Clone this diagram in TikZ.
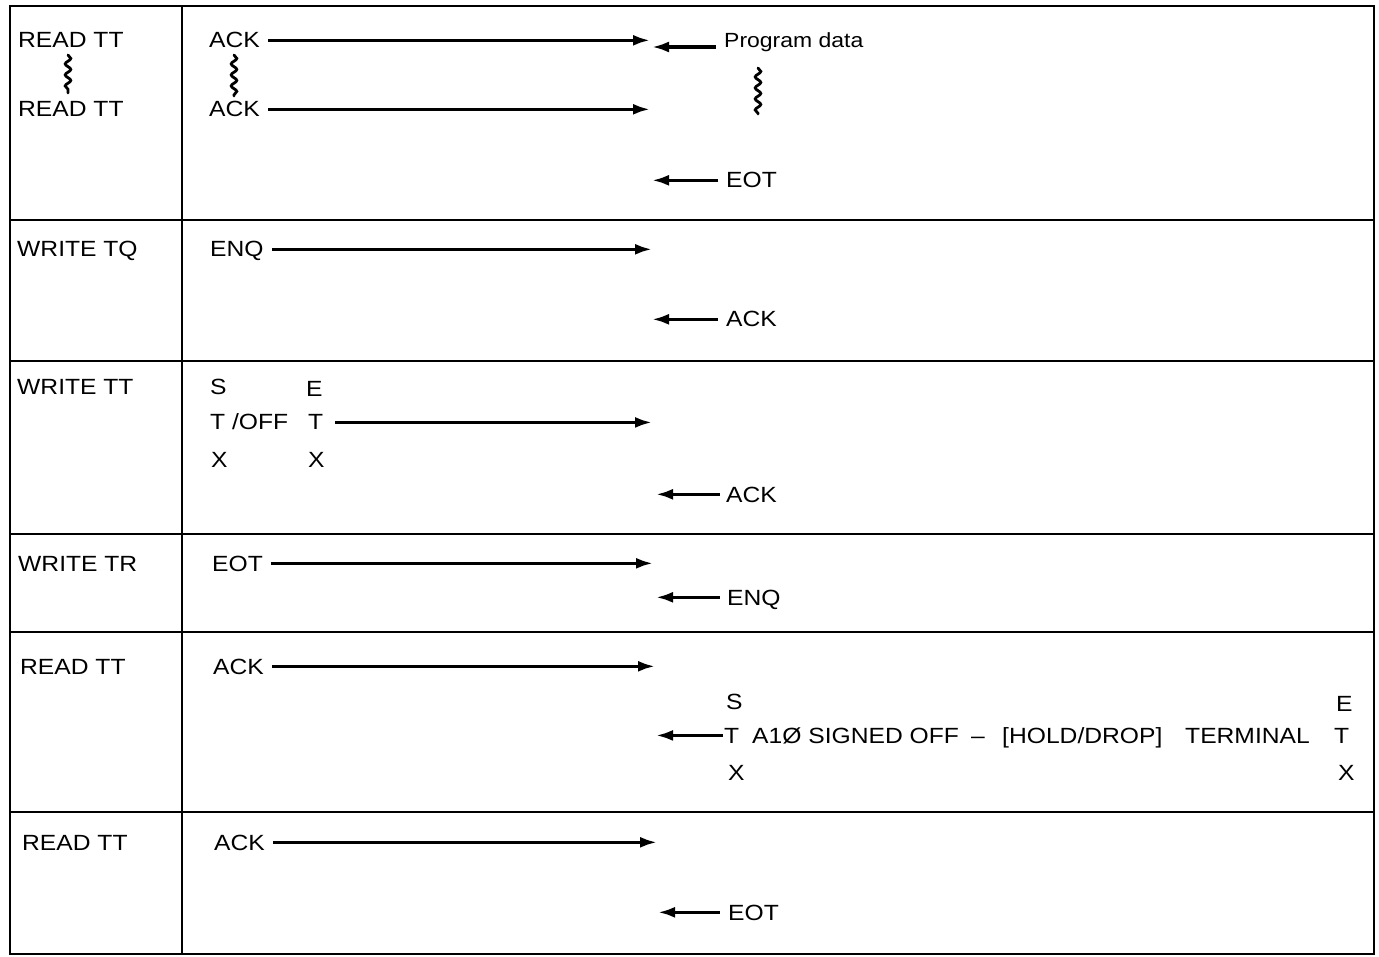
\documentclass[tikz,border=0pt]{standalone}
\usepackage{fontspec}
\setmainfont{Liberation Sans}[FakeStretch=1.12]
\usetikzlibrary{arrows.meta,decorations.pathmorphing,calc}
\begin{document}
\begin{tikzpicture}[x=1pt,y=-1pt,
 txt/.style={anchor=base west, inner sep=0pt, text depth=0pt, font=\fontsize{22}{26}\selectfont},
 small/.style={txt, font=\fontsize{20.5}{24}\selectfont},
 frame/.style={line width=2.6pt},
 arr/.style={line width=3.2pt, -{Latex[length=17pt,width=11pt]}},
 squig/.style={line width=2.8pt, line cap=round, decorate, decoration={snake, segment length=11pt, amplitude=2.8pt}}]
\useasboundingbox (0,0) rectangle (1379,957);
% frame
\draw[frame] (10,6) rectangle (1374,954);
\draw[frame] (182,6) -- (182,954);
\foreach \y in {220,361,534,632,812} \draw[frame] (10,\y) -- (1374,\y);

% ---------- row 1
\node[txt] (r1a) at (18,48) {READ TT};
\node[txt] (r1b) at (18,117) {READ TT};
\draw[squig] (68,55) -- (68,93);
\node[txt] (ack1a) at (209,48) {ACK};
\node[txt] (ack1b) at (209,117) {ACK};
\draw[squig] (234,55) -- (234,96);
\coordinate (t1a) at (650,0);
\draw[arr] ([xshift=8pt]ack1a.east) -- (ack1a.east -| t1a);
\draw[arr] ([xshift=8pt]ack1b.east) -- (ack1b.east -| t1a);
\node[small] (pd) at (724,48) {Program data};
\coordinate (l1) at (652,47);
\draw[arr] ($(pd.west |- l1)+(-8,0)$) -- (l1);
\draw[squig] (758,68) -- (758,114);
\node[txt] (eot1) at (726,188) {EOT};
\coordinate (l1b) at (652,0);
\draw[arr] ([xshift=-8pt]eot1.west) -- (eot1.west -| l1b);

% ---------- row 2
\node[txt] (r2) at (17,257) {WRITE TQ};
\node[txt] (enq2) at (210,257) {ENQ};
\coordinate (t2) at (652,0);
\draw[arr] ([xshift=8pt]enq2.east) -- (enq2.east -| t2);
\node[txt] (ack2) at (726,327) {ACK};
\coordinate (l2) at (652,0);
\draw[arr] ([xshift=-8pt]ack2.west) -- (ack2.west -| l2);

% ---------- row 3
\node[txt] (r3) at (17,395) {WRITE TT};
\node[txt] (s3) at (210,395) {S};
\node[txt] (e3) at (306,397) {E};
\node[txt] (t3a) at (210,430) {T /OFF};
\node[txt] (t3b) at (308,430) {T};
\node[txt] (x3a) at (211,467) {X};
\node[txt] (x3b) at (308,467) {X};
\coordinate (t3) at (652,0);
\draw[arr] ([xshift=12pt]t3b.east) -- (t3b.east -| t3);
\node[txt] (ack3) at (726,502) {ACK};
\coordinate (l3) at (656,0);
\draw[arr] ([xshift=-6pt]ack3.west) -- (ack3.west -| l3);

% ---------- row 4
\node[txt] (r4) at (18,571) {WRITE TR};
\node[txt] (eot4) at (212,571) {EOT};
\coordinate (t4) at (653,0);
\draw[arr] ([xshift=8pt]eot4.east) -- (eot4.east -| t4);
\node[txt] (enq4) at (727,605) {ENQ};
\coordinate (l4) at (656,0);
\draw[arr] ([xshift=-7pt]enq4.west) -- (enq4.west -| l4);

% ---------- row 5
\node[txt] (r5) at (20,674) {READ TT};
\node[txt] (ack5) at (213,674) {ACK};
\coordinate (t5) at (655,0);
\draw[arr] ([xshift=8pt]ack5.east) -- (ack5.east -| t5);
\node[txt] (s5) at (726,709) {S};
\node[txt] (e5) at (1336,711) {E};
\node[txt] (t5a) at (724,743) {T};
\node[txt] (msg) at (752,743) {A1Ø SIGNED OFF};
\node[txt] (dash) at (971,743) {–};
\node[txt] (hold) at (1002,743) {[HOLD/DROP]};
\node[txt] (term) at (1185,743) {TERMINAL};
\node[txt] (t5b) at (1334,743) {T};
\node[txt] (x5a) at (728,780) {X};
\node[txt] (x5b) at (1338,780) {X};
\coordinate (l5) at (656,0);
\draw[arr] ([xshift=-1pt]t5a.west) -- (t5a.west -| l5);

% ---------- row 6
\node[txt] (r6) at (22,850) {READ TT};
\node[txt] (ack6) at (214,850) {ACK};
\coordinate (t6) at (657,0);
\draw[arr] ([xshift=8pt]ack6.east) -- (ack6.east -| t6);
\node[txt] (eot6) at (728,920) {EOT};
\coordinate (l6) at (658,0);
\draw[arr] ([xshift=-8pt]eot6.west) -- (eot6.west -| l6);
\end{tikzpicture}
\end{document}
